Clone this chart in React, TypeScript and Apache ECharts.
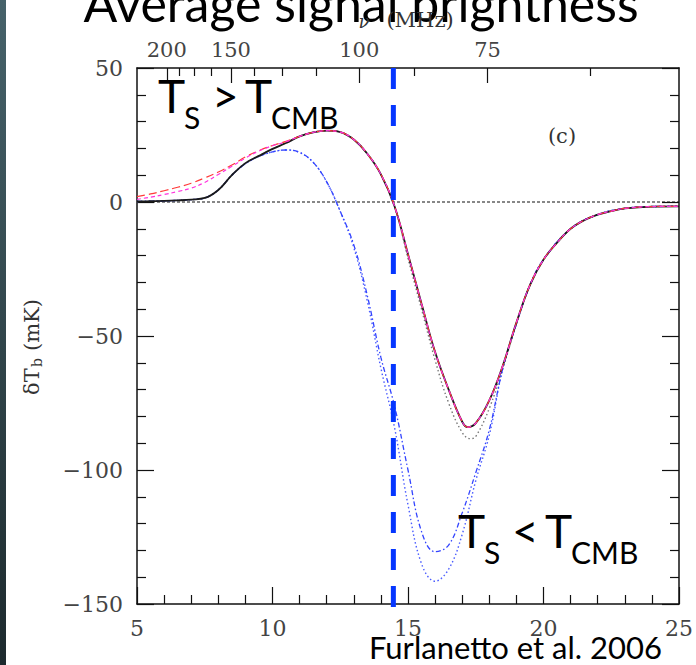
import React, { useEffect, useRef } from "react";
import * as echarts from "echarts";

// ---------- data ----------
const zBlack = [5, 5.5, 6, 6.5, 7, 7.5, 8, 8.5, 9, 9.5, 10, 10.5, 11, 11.5, 12, 12.5, 13, 13.5, 14, 14.5, 15, 15.5, 16, 16.5, 17, 17.2, 17.5, 18, 18.5, 19, 19.5, 20, 20.5, 21, 21.5, 22, 22.5, 23, 24, 25];
const tBlack = [0.2, 0.3, 0.4, 0.6, 0.9, 1.5, 4.5, 10, 14.5, 17.2, 19.8, 22, 24.5, 26, 26.6, 26.1, 23.3, 18, 10.3, -1.5, -19.5, -38, -56, -70, -82, -84, -82.5, -74, -61, -45, -31, -21.5, -15.2, -10, -6.8, -4.7, -3.4, -2.4, -1.7, -1.6];

const zRed = [5, 5.5, 6, 6.5, 7, 7.5, 8, 8.5, 9, 9.5, 10, 10.5, 11, 11.5, 12, 12.5, 13, 13.5, 14, 14.5, 15, 15.5, 16, 16.5, 17, 17.2, 17.5, 18, 18.5, 19, 19.5, 20, 20.5, 21, 21.5, 22, 22.5, 23, 24, 25];
const tRed = [2.0, 3.0, 4.2, 5.5, 7.0, 9.0, 11.2, 13.8, 16.8, 19.2, 21.1, 22.6, 24.5, 26, 26.6, 26.1, 23.3, 18, 10.3, -1.5, -19.5, -38, -56, -70, -82, -84, -82.5, -74, -61, -45, -31, -21.5, -15.2, -10, -6.8, -4.7, -3.4, -2.4, -1.7, -1.6];

const zMagenta = zRed;
const tMagenta = [1.0, 1.8, 2.8, 3.9, 5.2, 7.3, 10.3, 13.3, 16.4, 19.0, 21.0, 22.5, 24.5, 26, 26.6, 26.1, 23.3, 18, 10.3, -1.5, -19.5, -38, -56, -70, -82, -84, -82.5, -74, -61, -45, -31, -21.5, -15.2, -10, -6.8, -4.7, -3.4, -2.4, -1.7, -1.6];

const zGray = [5, 6, 7, 7.5, 8, 8.5, 9, 9.5, 10, 10.5, 11, 11.5, 12, 12.5, 13, 13.5, 14, 14.5, 15, 15.5, 16, 16.5, 17, 17.3, 17.5, 18, 18.5, 19, 19.5, 20, 21, 22, 23, 24, 25];
const tGray = [0.2, 0.4, 0.9, 1.5, 4.5, 10, 14.5, 17.2, 19.8, 22, 24.5, 26, 26.6, 26.1, 23.3, 18, 10.3, -1.5, -21, -40, -59, -75, -86, -88.3, -87.5, -77, -62, -45.5, -31, -21.5, -10, -4.7, -2.4, -1.7, -1.6];

const zBlueDashDot = [5, 6, 7, 7.5, 8, 8.5, 9, 9.5, 10, 10.5, 11, 11.5, 12, 12.5, 13, 13.5, 14, 14.5, 15, 15.5, 16, 16.5, 17, 17.5, 18, 18.5, 19, 19.5, 20, 21, 22, 23, 24, 25];
const tBlueDashDot = [0.2, 0.4, 0.9, 1.5, 4.5, 10, 14.3, 17, 18.7, 19.4, 18.5, 14.8, 7.5, -3.5, -16, -35, -58, -76, -100, -123, -130.5, -128, -116, -101, -85, -62, -45.5, -31, -21.5, -10, -4.7, -2.4, -1.7, -1.6];

const zBlueDotted = zBlueDashDot;
const tBlueDotted = [0.2, 0.4, 0.9, 1.5, 4.5, 10, 14.3, 17, 18.7, 19.4, 18.5, 14.8, 7.5, -3.5, -17, -37, -62, -84, -113, -135, -141.5, -137, -124, -104, -87, -62, -45.5, -31, -21.5, -10, -4.7, -2.4, -1.7, -1.6];

const freqMajor = [200, 150, 100, 75];
const freqMinor = [187.5, 175, 162.5, 137.5, 125, 112.5, 87.5, 62.5];
const markerZ = 14.46;

const toZ = (nu: number) => 1420 / nu - 1;
const pairs = (xs: number[], ys: number[]) => xs.map((x, i) => [x, ys[i]]);

const SERIF = "'DejaVu Serif', serif";
const SANS = "Lato, 'Open Sans', sans-serif";

export default function App() {
  const ref = useRef<HTMLDivElement>(null);
  useEffect(() => {
    if (!ref.current) return;
    const chart = echarts.init(ref.current, undefined, { renderer: "svg" });
    const labelStyle = { fontFamily: SERIF, fontSize: 22, color: "#444" };
    const minus = (v: number) => (v < 0 ? "\u2212" + Math.abs(v) : String(v));
    const tickLine = { color: "#111", width: 1.2 };
    chart.setOption({
      animation: false,
      backgroundColor: "#ffffff",
      grid: { left: 137, top: 68, width: 542, height: 536, containLabel: false },
      xAxis: [
        {
          type: "value", min: 5, max: 25, interval: 5, position: "bottom",
          axisLine: { onZero: false, lineStyle: { color: "#111", width: 1.5 } },
          axisTick: { inside: true, length: 17, lineStyle: tickLine },
          minorTick: { show: true, splitNumber: 5, length: 9, lineStyle: tickLine },
          splitLine: { show: false },
          axisLabel: { ...labelStyle, margin: 13, formatter: (v: number) => String(v) },
        },
        {
          type: "value", min: 5, max: 25, position: "top",
          axisLine: { onZero: false, lineStyle: { color: "#111", width: 1.5 } },
          axisTick: { inside: true, length: 15, customValues: freqMajor.map(toZ), lineStyle: tickLine },
          splitLine: { show: false },
          axisLabel: {
            ...labelStyle, fontSize: 21, margin: 8,
            customValues: freqMajor.map(toZ),
            formatter: (v: number) => String(Math.round(1420 / (v + 1))),
          },
        },
        {
          type: "value", min: 5, max: 25, position: "top",
          axisLine: { show: false, onZero: false },
          axisTick: { inside: true, length: 8, customValues: freqMinor.map(toZ), lineStyle: tickLine },
          splitLine: { show: false },
          axisLabel: { show: false },
        },
      ],
      yAxis: [
        {
          type: "value", min: -150, max: 50, interval: 50, position: "left",
          axisLine: { onZero: false, lineStyle: { color: "#111", width: 1.5 } },
          axisTick: { inside: true, length: 17, lineStyle: tickLine },
          minorTick: { show: true, splitNumber: 5, length: 9, lineStyle: tickLine },
          splitLine: { show: false },
          axisLabel: { ...labelStyle, margin: 14, formatter: minus },
        },
        {
          type: "value", min: -150, max: 50, interval: 50, position: "right",
          axisLine: { onZero: false, lineStyle: { color: "#111", width: 1.5 } },
          axisTick: { inside: true, length: 17, lineStyle: tickLine },
          minorTick: { show: true, splitNumber: 5, length: 9, lineStyle: tickLine },
          splitLine: { show: false },
          axisLabel: { show: false },
        },
      ],
      series: [
        {
          name: "zero", type: "line", data: [[5, 0], [25, 0]], symbol: "none",
          lineStyle: { color: "#111", width: 1.2, type: [3, 2] }, z: 1,
        },
        {
          name: "gray", type: "line", data: pairs(zGray, tGray), symbol: "none", smooth: 0.4,
          lineStyle: { color: "#777", width: 1.4, type: [1.5, 2.5] }, z: 2,
        },
        {
          name: "blueDotted", type: "line", data: pairs(zBlueDotted, tBlueDotted), symbol: "none", smooth: 0.4,
          lineStyle: { color: "#4a5cff", width: 1.4, type: [1.5, 2.5] }, z: 2,
        },
        {
          name: "blueDashDot", type: "line", data: pairs(zBlueDashDot, tBlueDashDot), symbol: "none", smooth: 0.4,
          lineStyle: { color: "#3344ff", width: 1.3, type: [5, 2.5, 1.5, 2.5] }, z: 3,
        },
        {
          name: "black", type: "line", data: pairs(zBlack, tBlack), symbol: "none", smooth: 0.4,
          lineStyle: { color: "#1a1a1a", width: 1.8 }, z: 4,
        },
        {
          name: "red", type: "line", data: pairs(zRed, tRed), symbol: "none", smooth: 0.4,
          lineStyle: { color: "#ff3a3a", width: 1.2, type: [8, 4] }, z: 5,
        },
        {
          name: "magenta", type: "line", data: pairs(zMagenta, tMagenta), symbol: "none", smooth: 0.4,
          lineStyle: { color: "#ff33dd", width: 1.2, type: [4, 3] }, z: 6,
        },
        {
          name: "marker", type: "line", data: [[markerZ, 50], [markerZ, -153]], symbol: "none", clip: false,
          lineStyle: { color: "#0536ff", width: 5, type: [21, 16] }, z: 10,
        },
      ],
      graphic: [
        {
          type: "rect", left: 0, top: 0, shape: { width: 6, height: 665 }, z: 100,
          style: {
            fill: new echarts.graphic.LinearGradient(0, 0, 0, 1, [
              { offset: 0, color: "#46626a" },
              { offset: 1, color: "#1d2a2e" },
            ]),
          },
        },
        {
          type: "text", x: 361, y: 28, z: 50,
          style: { text: "Average signal brightness", font: `50px ${SANS}`, fill: "#000", align: "center", verticalAlign: "bottom" },
        },
        {
          type: "text", x: 364, y: 21, z: 51,
          style: { text: "\u03bd", font: `italic 18px ${SERIF}`, fill: "#333", align: "center", verticalAlign: "middle" },
        },
        {
          type: "text", x: 420, y: 20, z: 51,
          style: { text: "(MHz)", font: `21px ${SERIF}`, fill: "#333", align: "center", verticalAlign: "middle" },
        },
        {
          type: "text", x: 562, y: 136, z: 50,
          style: { text: "(c)", font: `21px ${SERIF}`, fill: "#333", align: "center", verticalAlign: "middle" },
        },
        {
          type: "group", x: 32, y: 340, rotation: Math.PI / 2, z: 50,
          children: [
            { type: "text", x: -55, y: 0, style: { text: "\u03b4T", font: `21px ${SERIF}`, fill: "#333", align: "left", verticalAlign: "middle" } },
            { type: "text", x: -27, y: 5, style: { text: "b", font: `14px ${SERIF}`, fill: "#333", align: "left", verticalAlign: "middle" } },
            { type: "text", x: -11, y: 0, style: { text: "(mK)", font: `21px ${SERIF}`, fill: "#333", align: "left", verticalAlign: "middle" } },
          ],
        },
        // T_S > T_CMB
        { type: "text", x: 158, y: 118, z: 50, style: { text: "T", font: `46px ${SANS}`, fill: "#000", verticalAlign: "bottom" } },
        { type: "text", x: 184, y: 132, z: 50, style: { text: "S", font: `30px ${SANS}`, fill: "#000", verticalAlign: "bottom" } },
        { type: "text", x: 212, y: 118, z: 50, style: { text: ">", font: `46px ${SANS}`, fill: "#000", verticalAlign: "bottom" } },
        { type: "text", x: 245, y: 118, z: 50, style: { text: "T", font: `46px ${SANS}`, fill: "#000", verticalAlign: "bottom" } },
        { type: "text", x: 271, y: 132, z: 50, style: { text: "CMB", font: `30px ${SANS}`, fill: "#000", verticalAlign: "bottom" } },
        // T_S < T_CMB
        { type: "text", x: 458, y: 553, z: 50, style: { text: "T", font: `46px ${SANS}`, fill: "#000", verticalAlign: "bottom" } },
        { type: "text", x: 484, y: 567, z: 50, style: { text: "S", font: `30px ${SANS}`, fill: "#000", verticalAlign: "bottom" } },
        { type: "text", x: 512, y: 553, z: 50, style: { text: "<", font: `46px ${SANS}`, fill: "#000", verticalAlign: "bottom" } },
        { type: "text", x: 545, y: 553, z: 50, style: { text: "T", font: `46px ${SANS}`, fill: "#000", verticalAlign: "bottom" } },
        { type: "text", x: 571, y: 567, z: 50, style: { text: "CMB", font: `30px ${SANS}`, fill: "#000", verticalAlign: "bottom" } },
        {
          type: "text", x: 662, y: 662, z: 50,
          style: { text: "Furlanetto et al. 2006", font: `31px ${SANS}`, fill: "#000", align: "right", verticalAlign: "bottom" },
        },
      ],
    });
    return () => chart.dispose();
  }, []);
  return <div ref={ref} style={{ position: "fixed", left: 0, top: 0, width: 696, height: 665, background: "#fff" }} />;
}
